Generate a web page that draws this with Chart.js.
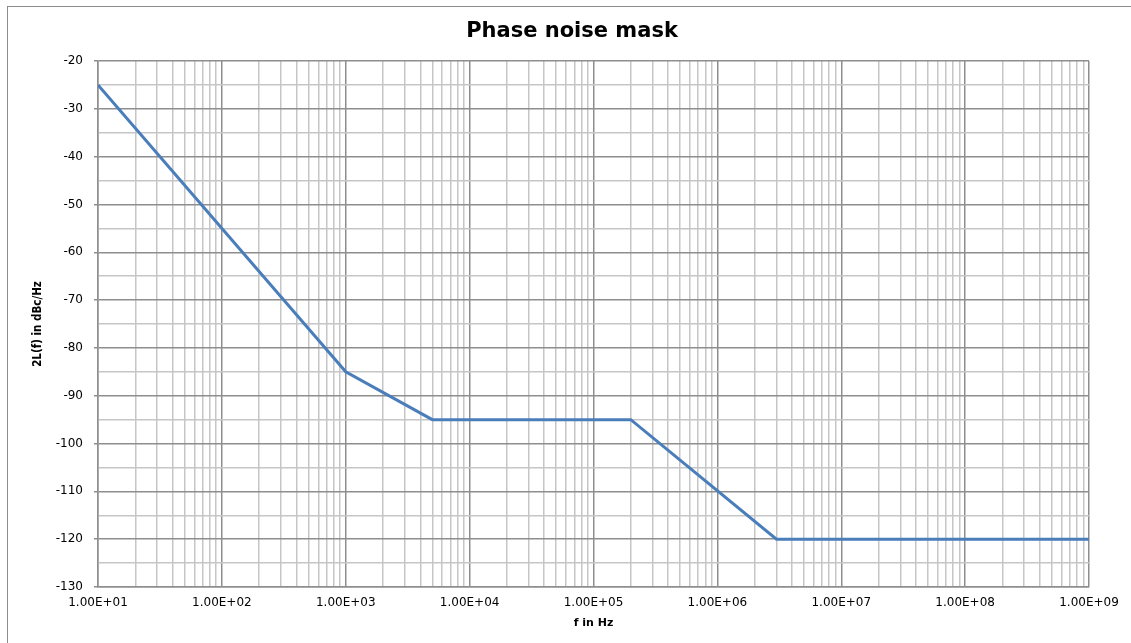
<!DOCTYPE html>
<html>
<head>
<meta charset="utf-8">
<script src="https://cdn.jsdelivr.net/npm/chart.js@4"></script>
<style>
  html, body { margin: 0; padding: 0; background: #ffffff; }
  #wrap { position: relative; width: 1131px; height: 643px; }
  canvas { display: block; }
</style>
</head>
<body>
<div id="wrap"><canvas id="c" width="1131" height="643"></canvas></div>
<script>
// ---- data ----
const freqHz = [10, 1000, 5000, 200000, 3000000, 1000000000];
const phaseNoiseDbc = [-25, -85, -95, -95, -120, -120];
const chartTitle = 'Phase noise mask';
const xTitle = 'f in Hz';
const yTitle = '2L(f) in dBc/Hz';
const xDecades = [1, 2, 3, 4, 5, 6, 7, 8, 9]; // 10^1 .. 10^9
const yMin = -130, yMax = -20, yMinorStep = 5, yMajorStep = 10;

const MAJOR = '#8e8e8e';
const MINOR = '#c6c6c6';

function isDecade(v) {
  const l = Math.log10(v);
  return Math.abs(l - Math.round(l)) < 1e-9;
}
function sci(v) {
  const e = Math.round(Math.log10(v));
  const m = v / Math.pow(10, e);
  const sign = e < 0 ? '-' : '+';
  const ea = Math.abs(e);
  return m.toFixed(2) + 'E' + sign + (ea < 10 ? '0' + ea : '' + ea);
}

const framePlugin = {
  id: 'frameAndTitle',
  beforeDraw(chart) {
    const ctx = chart.ctx;
    ctx.save();
    ctx.fillStyle = '#ffffff';
    ctx.fillRect(0, 0, chart.width, chart.height);
    ctx.strokeStyle = '#8c8c8c';
    ctx.lineWidth = 1;
    ctx.strokeRect(7.5, 6.5, 1300, 800);
    ctx.restore();
  },
  afterDraw(chart) {
    const ctx = chart.ctx;
    ctx.save();
    ctx.fillStyle = '#000000';
    ctx.font = 'bold 21px "DejaVu Sans"';
    ctx.textAlign = 'center';
    ctx.textBaseline = 'middle';
    ctx.fillText(chartTitle, 572, 32);
    ctx.restore();
  }
};

const points = freqHz.map((f, i) => ({ x: f, y: phaseNoiseDbc[i] }));

new Chart(document.getElementById('c'), {
  type: 'line',
  data: {
    datasets: [{
      data: points,
      borderColor: '#4a7ebb',
      borderWidth: 3,
      pointRadius: 0,
      tension: 0,
      fill: false
    }]
  },
  options: {
    responsive: false,
    animation: false,
    devicePixelRatio: 1,
    layout: { padding: { left: 0, right: 42, top: 61, bottom: 13 } },
    plugins: {
      legend: { display: false },
      tooltip: { enabled: false },
      title: { display: false }
    },
    scales: {
      x: {
        type: 'logarithmic',
        min: Math.pow(10, xDecades[0]),
        max: Math.pow(10, xDecades[xDecades.length - 1]),
        afterBuildTicks(scale) {
          const t = [];
          for (let i = 0; i < xDecades.length; i++) {
            const base = Math.pow(10, xDecades[i]);
            if (i === xDecades.length - 1) { t.push({ value: base, major: true }); break; }
            for (let m = 1; m <= 9; m++) t.push({ value: m * base, major: m === 1 });
          }
          scale.ticks = t;
        },
        afterFit(scale) { scale.height = 43; },
        grid: {
          drawTicks: false,
          color: (c) => (c.tick && isDecade(c.tick.value)) ? MAJOR : MINOR,
          lineWidth: 1.5
        },
        border: { color: MAJOR, width: 1.5 },
        ticks: {
          autoSkip: false,
          maxRotation: 0,
          minRotation: 0,
          padding: 9,
          color: '#000000',
          font: { family: 'DejaVu Sans', size: 12 },
          callback: (v) => isDecade(v) ? sci(v) : ''
        },
        title: {
          display: true,
          text: xTitle,
          color: '#000000',
          font: { family: 'DejaVu Sans', size: 11, weight: 'bold', lineHeight: 1.2 },
          padding: { top: 0, bottom: 0 }
        }
      },
      y: {
        type: 'linear',
        min: yMin,
        max: yMax,
        afterFit(scale) { scale.width = 98; },
        grid: {
          drawTicks: true,
          tickLength: 4,
          color: (c) => (c.tick && c.tick.value % yMajorStep === 0) ? MAJOR : MINOR,
          tickColor: (c) => (c.tick && c.tick.value % yMajorStep === 0) ? MAJOR : 'rgba(0,0,0,0)',
          lineWidth: 1.5
        },
        border: { color: MAJOR, width: 1.5 },
        ticks: {
          stepSize: yMinorStep,
          autoSkip: false,
          padding: 11,
          color: '#000000',
          font: { family: 'DejaVu Sans', size: 12 },
          callback: (v) => (v % yMajorStep === 0) ? String(v) : ''
        },
        title: {
          display: true,
          text: yTitle,
          color: '#000000',
          font: { family: 'DejaVu Sans Condensed, DejaVu Sans', size: 11.5, weight: 'bold', lineHeight: 1.2 },
          padding: { top: 31, bottom: 0 }
        }
      }
    }
  },
  plugins: [framePlugin]
});
</script>
</body>
</html>
